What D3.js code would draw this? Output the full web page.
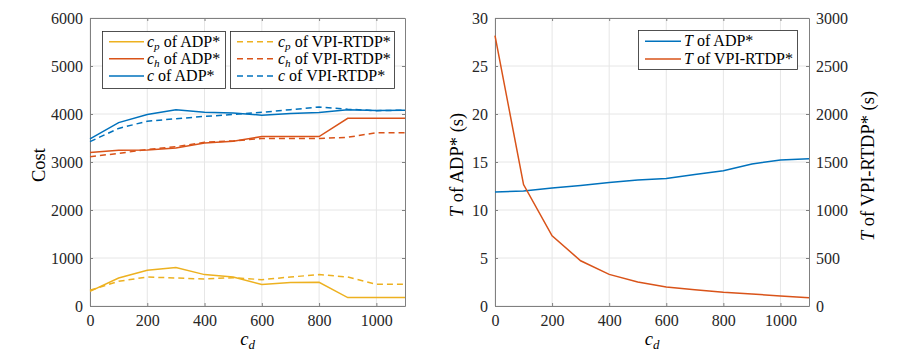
<!DOCTYPE html>
<html>
<head>
<meta charset="utf-8">
<script src="https://cdn.jsdelivr.net/npm/d3@7"></script>
<style>
  body { margin: 0; background: #fff; }
  .axis path, .axis line { stroke: #808080; }
  .axis text { fill: #262626; }
  .grid line { stroke: #e6e6e6; }
</style>
</head>
<body>
<div id="vis"></div>
<script>
(function() {
  var SERIF = 'Liberation Serif';
  var cd = [0, 100, 200, 300, 400, 500, 600, 700, 800, 900, 1000, 1100];

  // left plot: cost components
  var cpADP = [306, 583, 744, 800, 654, 604, 446, 487, 494, 175, 175, 175];
  var chADP = [3200, 3245, 3250, 3290, 3395, 3430, 3530, 3530, 3530, 3910, 3910, 3910];
  var cADP = [3480, 3820, 3990, 4090, 4035, 4020, 3975, 4010, 4030, 4090, 4075, 4080];
  var cpVPI = [327, 515, 604, 583, 563, 590, 549, 604, 654, 604, 452, 452];
  var chVPI = [3110, 3180, 3260, 3320, 3410, 3440, 3490, 3490, 3490, 3515, 3610, 3610];
  var cVPI = [3425, 3700, 3850, 3900, 3950, 3990, 4035, 4090, 4145, 4100, 4070, 4080];

  // right plot: run time
  var tADP = [11.88, 11.99, 12.3, 12.55, 12.86, 13.13, 13.27, 13.7, 14.1, 14.8, 15.2, 15.35];
  var tVPI = [2817, 1265, 731, 471, 329, 250, 198, 170, 142, 125, 104, 86];

  var xTicks = [0, 200, 400, 600, 800, 1000];
  var costTicks = [0, 1000, 2000, 3000, 4000, 5000, 6000];
  var tTicks = [0, 5, 10, 15, 20, 25, 30];
  var tRightTicks = [0, 500, 1000, 1500, 2000, 2500, 3000];

  var BLUE = '#0072BD', RED = '#D95319', YELLOW = '#EDB120';
  var fmt = d3.format('d');

  var svg = d3.select('#vis').append('svg').attr('width', 900).attr('height', 360)
    .attr('font-family', SERIF);

  function styleAxis(g) {
    g.attr('class', 'axis').attr('font-family', SERIF).attr('font-size', 16);
    g.selectAll('text').attr('font-family', SERIF).attr('font-size', 16);
  }

  function drawFrame(x, y, yTicks) {
    var g = svg.append('g');
    var x0 = x.range()[0], x1 = x.range()[1], y0 = y.range()[0], y1 = y.range()[1];
    g.append('g').attr('class', 'grid').selectAll('line').data(xTicks).enter().append('line')
      .attr('x1', function(d) { return x(d); }).attr('x2', function(d) { return x(d); })
      .attr('y1', y0).attr('y2', y1);
    g.append('g').attr('class', 'grid').selectAll('line').data(yTicks).enter().append('line')
      .attr('x1', x0).attr('x2', x1)
      .attr('y1', function(d) { return y(d); }).attr('y2', function(d) { return y(d); });
    g.append('g').attr('transform', 'translate(0,' + y0 + ')')
      .call(d3.axisBottom(x).tickValues(xTicks).tickSizeInner(-3).tickSizeOuter(0).tickPadding(9).tickFormat(fmt))
      .call(styleAxis);
    g.append('g').attr('transform', 'translate(0,' + y1 + ')')
      .call(d3.axisTop(x).tickValues(xTicks).tickSizeInner(-3).tickSizeOuter(0).tickFormat(''))
      .call(styleAxis);
    g.append('g').attr('transform', 'translate(' + x0 + ',0)')
      .call(d3.axisLeft(y).tickValues(yTicks).tickSizeInner(-3).tickSizeOuter(0).tickPadding(7).tickFormat(fmt))
      .call(styleAxis);
    return g;
  }

  // ---------- left plot ----------
  var xL = d3.scaleLinear().domain([0, 1100]).range([90, 405]);
  var yL = d3.scaleLinear().domain([0, 6000]).range([306, 18]);
  drawFrame(xL, yL, costTicks);
  svg.append('g').attr('transform', 'translate(405,0)')
    .call(d3.axisRight(yL).tickValues(costTicks).tickSizeInner(-3).tickSizeOuter(0).tickFormat(''))
    .call(styleAxis);

  var seriesL = [
    {v: cpADP, c: YELLOW, dash: null, sub: 'p', sym: 'c', rest: ' of ADP*'},
    {v: chADP, c: RED, dash: null, sub: 'h', sym: 'c', rest: ' of ADP*'},
    {v: cADP, c: BLUE, dash: null, sub: null, sym: 'c', rest: ' of ADP*'},
    {v: cpVPI, c: YELLOW, dash: '6,4', sub: 'p', sym: 'c', rest: ' of VPI-RTDP*'},
    {v: chVPI, c: RED, dash: '6,4', sub: 'h', sym: 'c', rest: ' of VPI-RTDP*'},
    {v: cVPI, c: BLUE, dash: '6,4', sub: null, sym: 'c', rest: ' of VPI-RTDP*'}
  ];

  var lineL = d3.line().x(function(d, i) { return xL(cd[i]); }).y(function(d) { return yL(d); });
  svg.append('g').selectAll('path').data(seriesL).enter().append('path')
    .attr('d', function(d) { return lineL(d.v); })
    .attr('fill', 'none').attr('stroke', function(d) { return d.c; })
    .attr('stroke-width', 1.5)
    .attr('stroke-dasharray', function(d) { return d.dash; });

  // text with an italic symbol, optional subscript, then upright rest
  function mathText(sel, size, sym, sub, rest) {
    var t = sel.append('text').attr('font-size', size).attr('fill', '#000').attr('font-family', SERIF);
    t.append('tspan').attr('font-family', SERIF).attr('font-style', 'italic').text(sym);
    if (sub) {
      t.append('tspan').attr('font-family', SERIF).attr('font-style', 'italic')
        .attr('font-size', size * 0.7).attr('dy', 3.5).text(sub);
      if (rest) t.append('tspan').attr('font-family', SERIF).attr('dy', -3.5).text(rest);
    } else if (rest) {
      t.append('tspan').attr('font-family', SERIF).text(rest);
    }
    return t;
  }

  function legend(items, bx, by, bw, bh, lx0, lx1, rowY) {
    var g = svg.append('g');
    g.append('rect').attr('x', bx).attr('y', by).attr('width', bw).attr('height', bh)
      .attr('fill', '#fff').attr('stroke', '#262626').attr('stroke-width', 0.8);
    items.forEach(function(d, i) {
      var yy = rowY[i];
      g.append('line').attr('x1', lx0).attr('x2', lx1).attr('y1', yy).attr('y2', yy)
        .attr('stroke', d.c).attr('stroke-width', 1.5).attr('stroke-dasharray', d.dash);
      mathText(g, 16, d.sym, d.sub, d.rest).attr('x', lx1 + 3).attr('y', yy + 5);
    });
  }

  legend(seriesL.slice(0, 3), 102.5, 31.5, 123, 57, 109, 144, [41.7, 58.7, 76]);
  legend(seriesL.slice(3), 230.5, 31.5, 164, 57, 237, 275, [41.7, 58.7, 76]);

  svg.append('text').attr('transform', 'translate(45,165) rotate(-90)')
    .attr('text-anchor', 'middle').attr('font-size', 18.5).attr('font-family', SERIF).text('Cost');
  mathText(svg, 18.5, 'c', 'd', null).attr('x', xL(550)).attr('y', 345).attr('text-anchor', 'middle');

  // ---------- right plot ----------
  var xR = d3.scaleLinear().domain([0, 1100]).range([495, 809]);
  var yR = d3.scaleLinear().domain([0, 30]).range([306, 18]);
  var yR2 = d3.scaleLinear().domain([0, 3000]).range([306, 18]);
  drawFrame(xR, yR, tTicks);
  svg.append('g').attr('transform', 'translate(809,0)')
    .call(d3.axisRight(yR2).tickValues(tRightTicks).tickSizeInner(-3).tickSizeOuter(0).tickPadding(7).tickFormat(fmt))
    .call(styleAxis);

  var lineR = d3.line().x(function(d, i) { return xR(cd[i]); }).y(function(d) { return yR(d); });
  var lineR2 = d3.line().x(function(d, i) { return xR(cd[i]); }).y(function(d) { return yR2(d); });
  svg.append('path').attr('d', lineR(tADP)).attr('fill', 'none').attr('stroke', BLUE).attr('stroke-width', 1.5);
  svg.append('path').attr('d', lineR2(tVPI)).attr('fill', 'none').attr('stroke', RED).attr('stroke-width', 1.5);

  legend([
    {c: BLUE, dash: null, sym: 'T', sub: null, rest: ' of ADP*'},
    {c: RED, dash: null, sym: 'T', sub: null, rest: ' of VPI-RTDP*'}
  ], 638.5, 30.5, 159, 39, 645, 681, [41.3, 59]);

  mathText(svg, 18.5, 'T', null, ' of ADP* (s)')
    .attr('transform', 'translate(463,165) rotate(-90)').attr('text-anchor', 'middle');
  mathText(svg, 18.5, 'T', null, ' of VPI-RTDP* (s)')
    .attr('transform', 'translate(874,166) rotate(-90)').attr('text-anchor', 'middle');
  mathText(svg, 18.5, 'c', 'd', null).attr('x', xR(550)).attr('y', 345).attr('text-anchor', 'middle');
}).call(this);
</script>
</body>
</html>
